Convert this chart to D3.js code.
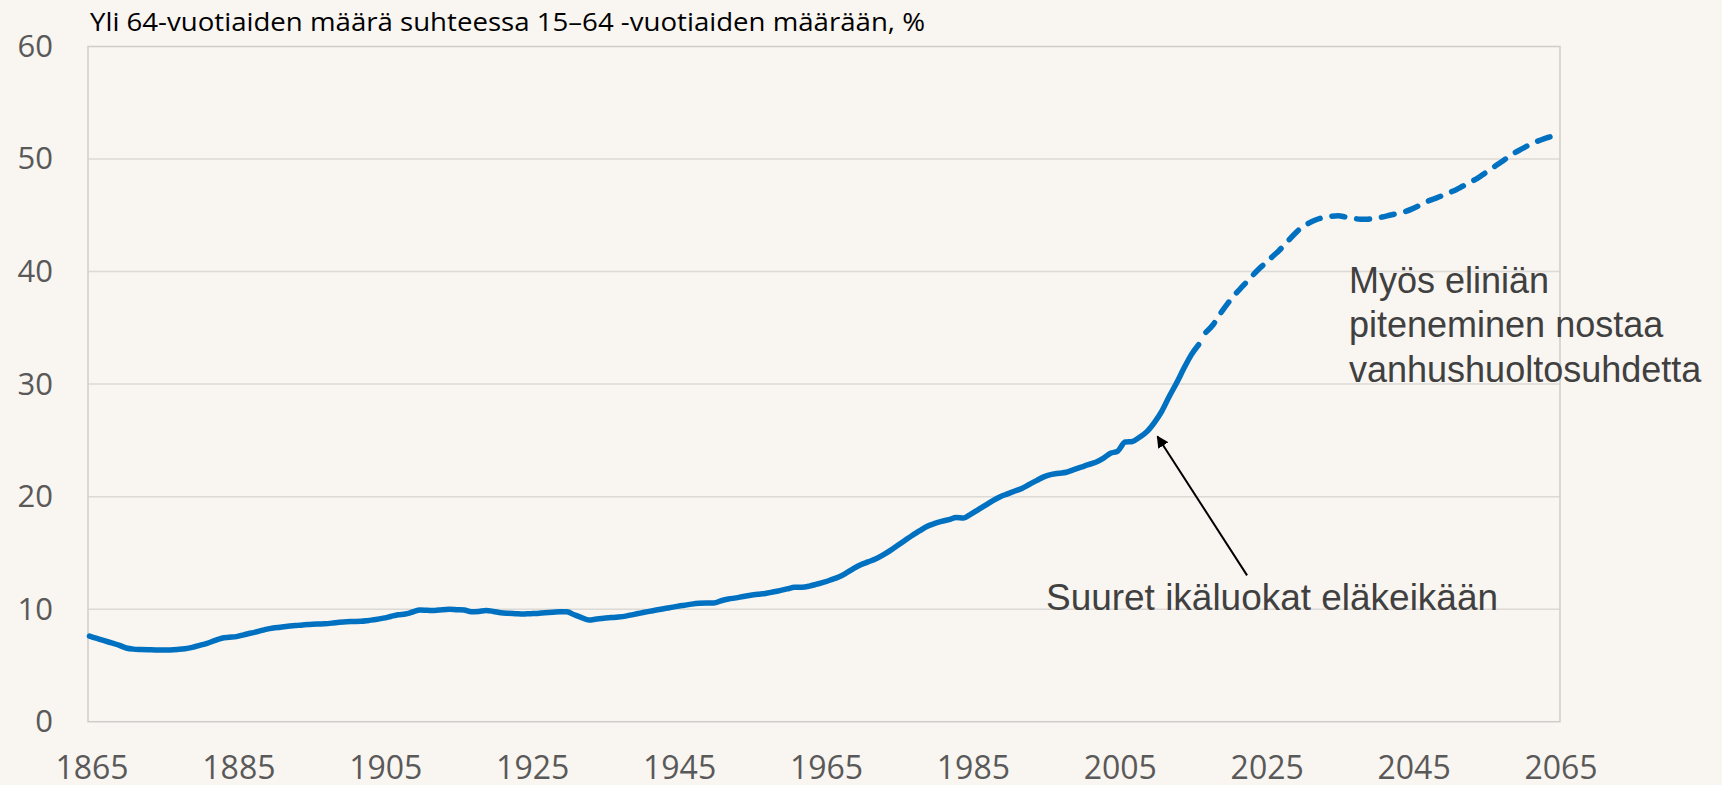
<!DOCTYPE html>
<html>
<head>
<meta charset="utf-8">
<script src="https://cdn.jsdelivr.net/npm/d3@7"></script>
<style>
  body { margin: 0; background: #f9f5f0; }
  svg { display: block; }
  .tick-label { font-family: "Open Sans", sans-serif; fill: #595959; }
  .note { font-family: "Liberation Sans", Arial, sans-serif; fill: #404040; }
</style>
</head>
<body>
<div class="chart"></div>
<script>
// Data: old-age dependency ratio (65+ / 15-64, %), one value per year
var histStart = 1865;
var histValues = [
  7.6, 7.4, 7.2, 7.0, 6.8, 6.55, 6.45, 6.42, 6.4, 6.38,          // 1865-1874
  6.37, 6.38, 6.42, 6.48, 6.6, 6.78, 6.97, 7.2, 7.42, 7.5,       // 1875-1884
  7.56, 7.72, 7.88, 8.02, 8.2, 8.33, 8.4, 8.48, 8.54, 8.6,       // 1885-1894
  8.64, 8.68, 8.7, 8.76, 8.84, 8.89, 8.9, 8.92, 9.0, 9.08,       // 1895-1904
  9.2, 9.35, 9.5, 9.57, 9.75, 9.92, 9.9, 9.88, 9.95, 9.99,       // 1905-1914
  9.95, 9.92, 9.76, 9.8, 9.88, 9.8, 9.68, 9.63, 9.6, 9.57,       // 1915-1924
  9.6, 9.62, 9.68, 9.72, 9.78, 9.76, 9.5, 9.25, 9.04, 9.12,      // 1925-1934
  9.2, 9.25, 9.3, 9.38, 9.52, 9.65, 9.78, 9.9, 10.02, 10.13,     // 1935-1944
  10.25, 10.35, 10.45, 10.52, 10.55, 10.55, 10.75, 10.9, 11.0, 11.12, // 1945-1954
  11.23, 11.32, 11.4, 11.52, 11.65, 11.8, 11.94, 11.95, 12.05, 12.22, // 1955-1964
  12.4, 12.62, 12.85, 13.2, 13.6, 13.95, 14.2, 14.45, 14.8, 15.2,     // 1965-1974
  15.65, 16.1, 16.55, 16.95, 17.35, 17.6, 17.8, 17.95, 18.15, 18.1,   // 1975-1984
  18.45, 18.85, 19.25, 19.65, 20.0, 20.25, 20.5, 20.75, 21.1, 21.45,  // 1985-1994
  21.78, 21.98, 22.08, 22.17, 22.4, 22.62, 22.85, 23.05, 23.4, 23.85, // 1995-2004
  24.05, 24.85, 24.9, 25.3, 25.8, 26.6, 27.6, 28.9, 30.1, 31.4,       // 2005-2014
  32.6, 33.5                                                           // 2015-2016
];

// Projection (dashed), starts from the last observed year
var projStart = 2016;
var projValues = [
  33.5, 34.6, 35.3, 36.3, 37.2, 38.0, 38.7, 39.4, 40.1, 40.7,   // 2016-2025
  41.3, 41.9, 42.6, 43.3, 43.9, 44.3, 44.6, 44.8, 44.9, 44.95,  // 2026-2035
  44.85, 44.75, 44.65, 44.65, 44.75, 44.85, 45.0, 45.15, 45.3, 45.55, // 2036-2045
  45.85, 46.2, 46.45, 46.7, 47.0, 47.25, 47.6, 47.95, 48.3, 48.75,    // 2046-2055
  49.2, 49.65, 50.1, 50.55, 50.9, 51.25, 51.55, 51.8, 52.0, 52.2      // 2056-2065
];

var xTicks = [1865, 1885, 1905, 1925, 1945, 1965, 1985, 2005, 2025, 2045, 2065];
var yTicks = [0, 10, 20, 30, 40, 50, 60];

var titleText = "Yli 64-vuotiaiden määrä suhteessa 15–64 -vuotiaiden määrään, %";
var noteRetire = "Suuret ikäluokat eläkeikään";
var noteLife = ["Myös eliniän", "piteneminen nostaa", "vanhushuoltosuhdetta"];

// Set up the chart
var svgWidth = 1722;
var svgHeight = 785;

var margin = { top: 46.5, right: 162, bottom: 63.3, left: 88 };
var width = svgWidth - margin.left - margin.right;
var height = svgHeight - margin.top - margin.bottom;

var svg = d3.select(".chart")
  .append("svg")
  .attr("width", svgWidth)
  .attr("height", svgHeight);

svg.append("rect")
  .attr("width", svgWidth)
  .attr("height", svgHeight)
  .attr("fill", "#f9f5f0");

var chart = svg.append("g")
  .attr("transform", "translate(" + margin.left + "," + margin.top + ")");

var xScale = d3.scaleLinear().domain([1865, 2065]).range([1.5, width - 1.5]);
var yScale = d3.scaleLinear().domain([0, 60]).range([height, 0]);

// Gridlines
chart.append("g")
  .selectAll("line")
  .data(yTicks.slice(1, -1))
  .enter()
  .append("line")
  .attr("x1", 0)
  .attr("x2", width)
  .attr("y1", function(d) { return yScale(d); })
  .attr("y2", function(d) { return yScale(d); })
  .attr("stroke", "#dcdad6")
  .attr("stroke-width", 1.5);

// Plot frame
chart.append("rect")
  .attr("x", 0)
  .attr("y", 0)
  .attr("width", width)
  .attr("height", height)
  .attr("fill", "none")
  .attr("stroke", "#cfcdca")
  .attr("stroke-width", 1.5);

// Y axis labels
var leftAxis = d3.axisLeft(yScale).tickValues(yTicks).tickSize(0).tickPadding(35);
var gy = chart.append("g").call(leftAxis);
gy.select(".domain").remove();
gy.selectAll("text")
  .attr("class", "tick-label")
  .attr("fill", null)
  .style("font-size", "31px");

// X axis labels
var bottomAxis = d3.axisBottom(xScale).tickValues(xTicks).tickSize(0).tickFormat(d3.format("d"));
var gx = chart.append("g")
  .attr("transform", "translate(0," + height + ")")
  .call(bottomAxis);
gx.select(".domain").remove();
gx.selectAll("text")
  .attr("class", "tick-label")
  .attr("fill", null)
  .attr("dy", null)
  .attr("y", 57)
  .attr("x", 2)
  .style("font-size", "32px");

// Lines
var histData = histValues.map(function(v, i) { return { year: histStart + i, value: v }; });
var projData = projValues.map(function(v, i) { return { year: projStart + i, value: v }; });

var line = d3.line()
  .x(function(d) { return xScale(d.year); })
  .y(function(d) { return yScale(d.value); })
  .curve(d3.curveMonotoneX);

chart.append("path")
  .datum(projData.slice(1))
  .attr("d", line)
  .attr("fill", "none")
  .attr("stroke", "#0070c0")
  .attr("stroke-width", 5.5)
  .attr("stroke-linecap", "round")
  .attr("stroke-dasharray", "13,12");

chart.append("path")
  .datum(histData)
  .attr("d", line)
  .attr("fill", "none")
  .attr("stroke", "#0070c0")
  .attr("stroke-width", 5.5)
  .attr("stroke-linejoin", "round")
  .attr("stroke-linecap", "round");

// Title
svg.append("text")
  .attr("x", 90)
  .attr("y", 31)
  .style("font-family", "'Open Sans', sans-serif")
  .style("font-size", "26px")
  .attr("textLength", 835)
  .attr("lengthAdjust", "spacingAndGlyphs")
  .attr("fill", "#000")
  .text(titleText);

// Arrow annotation
svg.append("defs")
  .append("marker")
  .attr("id", "arrowhead")
  .attr("viewBox", "0 0 10 10")
  .attr("refX", 9)
  .attr("refY", 5)
  .attr("markerWidth", 6)
  .attr("markerHeight", 6)
  .attr("orient", "auto")
  .append("path")
  .attr("d", "M0,0 L10,5 L0,10 z")
  .attr("fill", "#000");

chart.append("line")
  .attr("x1", xScale(2022.6))
  .attr("y1", yScale(13.0))
  .attr("x2", xScale(2010.4))
  .attr("y2", yScale(25.35))
  .attr("stroke", "#000")
  .attr("stroke-width", 2)
  .attr("marker-end", "url(#arrowhead)");

svg.append("text")
  .attr("class", "note")
  .attr("x", 1046)
  .attr("y", 610)
  .style("font-size", "36px")
  .attr("textLength", 452)
  .attr("lengthAdjust", "spacingAndGlyphs")
  .text(noteRetire);

svg.append("g")
  .selectAll("text")
  .data(noteLife)
  .enter()
  .append("text")
  .attr("class", "note")
  .attr("x", 1349)
  .attr("y", function(d, i) { return 293 + i * 44.3; })
  .style("font-size", "36px")
  .text(function(d) { return d; });
</script>
</body>
</html>
